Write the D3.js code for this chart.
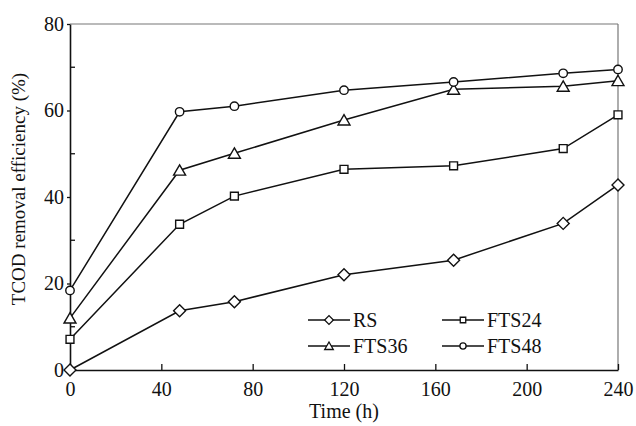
<!DOCTYPE html>
<html>
<head>
<meta charset="utf-8">
<script src="https://cdn.jsdelivr.net/npm/d3@7"></script>
<style>
  body { margin: 0; background: #fff; }
  text { font-family: "Liberation Serif", "Times New Roman", serif; fill: #111; }
</style>
</head>
<body>
<div id="chart"></div>
<script>
// time points (h)
const hours = [0, 48, 72, 120, 168, 216, 240];

// TCOD removal efficiency (%) per sample
const rs    = [0, 13.7, 15.8, 22.0, 25.4, 33.9, 42.8];
const fts24 = [7.1, 33.7, 40.2, 46.4, 47.2, 51.2, 59.0];
const fts36 = [12.0, 46.2, 50.1, 57.8, 64.9, 65.6, 66.9];
const fts48 = [18.4, 59.7, 61.0, 64.7, 66.6, 68.6, 69.5];

const seriesNames = ["RS", "FTS24", "FTS36", "FTS48"];
const seriesValues = [rs, fts24, fts36, fts48];
const seriesSymbols = ["diamond", "square", "triangle", "circle"];

const xTicks = [0, 40, 80, 120, 160, 200, 240];
const yTicks = [0, 20, 40, 60, 80];
const yMinorTicks = [10, 30, 50, 70];

const width = 636, height = 426;
const margin = { top: 24, right: 18, bottom: 56, left: 70 };

const svg = d3.select("#chart").append("svg")
  .attr("width", width)
  .attr("height", height);

const x = d3.scaleLinear().domain([0, 240]).range([margin.left, width - margin.right]);
const y = d3.scaleLinear().domain([0, 80]).range([height - margin.bottom, margin.top]);

// frame (top and right are lighter)
svg.append("line")
  .attr("x1", x(0)).attr("x2", x(240)).attr("y1", y(80)).attr("y2", y(80))
  .attr("stroke", "#777").attr("stroke-width", 1.2);
svg.append("line")
  .attr("x1", x(240)).attr("x2", x(240)).attr("y1", y(80)).attr("y2", y(0))
  .attr("stroke", "#777").attr("stroke-width", 1.2);

// x axis, ticks inward
const xAxis = svg.append("g")
  .attr("transform", `translate(0,${y(0)})`)
  .call(d3.axisBottom(x).tickValues(xTicks).tickSize(-6).tickSizeOuter(0).tickPadding(12));
xAxis.select(".domain").attr("stroke", "#111").attr("stroke-width", 1.6);
xAxis.selectAll(".tick line").attr("stroke", "#111").attr("stroke-width", 1.3);
xAxis.selectAll(".tick text").style("font-size", "20px").attr("fill", "#111");

// y axis
const yAxis = svg.append("g")
  .attr("transform", `translate(${x(0)},0)`)
  .call(d3.axisLeft(y).tickValues(yTicks).tickSize(3).tickSizeOuter(0).tickPadding(3));
yAxis.select(".domain").attr("stroke", "#111").attr("stroke-width", 1.6);
yAxis.selectAll(".tick line").attr("stroke", "#111").attr("stroke-width", 1.3);
yAxis.selectAll(".tick text").style("font-size", "20px").attr("fill", "#111");

// minor ticks on y, inward
svg.append("g").selectAll("line")
  .data(yMinorTicks)
  .join("line")
  .attr("x1", x(0)).attr("x2", x(0) + 5)
  .attr("y1", d => y(d)).attr("y2", d => y(d))
  .attr("stroke", "#111").attr("stroke-width", 1.3);

// axis titles
svg.append("text")
  .attr("x", (x(0) + x(240)) / 2)
  .attr("y", 418)
  .attr("text-anchor", "middle")
  .style("font-size", "20px")
  .text("Time (h)");

svg.append("text")
  .attr("transform", `translate(25,${(y(0) + y(80)) / 2 - 8}) rotate(-90)`)
  .attr("text-anchor", "middle")
  .style("font-size", "19px")
  .text("TCOD removal efficiency (%)");

function symbolPath(kind, size) {
  const map = {
    diamond: d3.symbolSquare,
    square: d3.symbolSquare,
    triangle: d3.symbolTriangle,
    circle: d3.symbolCircle
  };
  return d3.symbol().type(map[kind]).size(size)();
}

const symbolSizes = { diamond: 72, square: 62, triangle: 62, circle: 56 };
const legendSizes = { diamond: 38, square: 30, triangle: 32, circle: 30 };

const line = d3.line()
  .x((d, i) => x(hours[i]))
  .y(d => y(d));

seriesValues.forEach((vals, k) => {
  const g = svg.append("g");
  g.append("path")
    .datum(vals)
    .attr("d", line)
    .attr("fill", "none")
    .attr("stroke", "#111")
    .attr("stroke-width", 1.5);

  const kind = seriesSymbols[k];
  g.selectAll("path.pt")
    .data(vals)
    .join("path")
    .attr("class", "pt")
    .attr("d", symbolPath(kind, symbolSizes[kind]))
    .attr("transform", (d, i) => {
      const dy = kind === "triangle" ? 1.5 : 0;
      const rot = kind === "diamond" ? " rotate(45)" : "";
      return `translate(${x(hours[i])},${y(d) + dy})${rot}`;
    })
    .attr("fill", "#fff")
    .attr("stroke", "#111")
    .attr("stroke-width", 1.4);
});

// legend: 2 columns x 2 rows
const legendPos = [
  { lx: 308, ly: 320 },
  { lx: 442, ly: 320 },
  { lx: 308, ly: 346 },
  { lx: 442, ly: 346 }
];

seriesNames.forEach((name, k) => {
  const p = legendPos[k];
  const kind = seriesSymbols[k];
  const g = svg.append("g").attr("transform", `translate(${p.lx},${p.ly})`);
  g.append("line")
    .attr("x1", 0).attr("x2", 42).attr("y1", 0).attr("y2", 0)
    .attr("stroke", "#111").attr("stroke-width", 1.4);
  g.append("path")
    .attr("d", symbolPath(kind, legendSizes[kind]))
    .attr("transform", `translate(21,${kind === "triangle" ? 1 : 0})${kind === "diamond" ? " rotate(45)" : ""}`)
    .attr("fill", "#fff")
    .attr("stroke", "#111")
    .attr("stroke-width", 1.3);
  g.append("text")
    .attr("x", 45)
    .attr("y", 7)
    .style("font-size", "20px")
    .text(name);
});
</script>
</body>
</html>
